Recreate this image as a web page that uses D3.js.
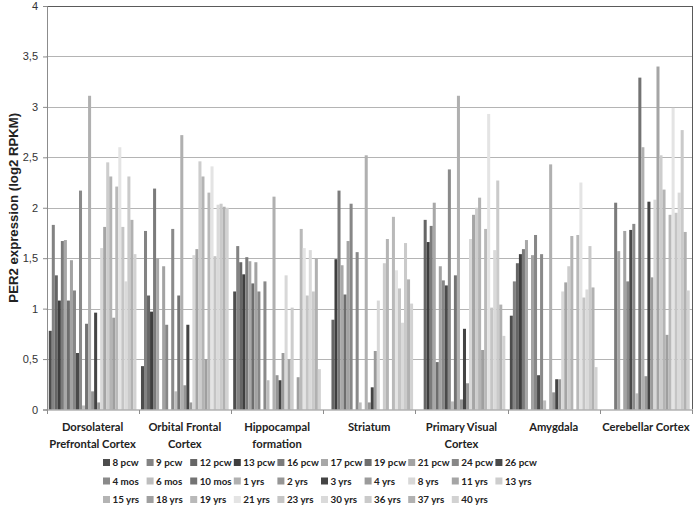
<!DOCTYPE html>
<html>
<head>
<meta charset="utf-8">
<script src="https://cdn.jsdelivr.net/npm/d3@7"></script>
<style>
  html, body { margin: 0; padding: 0; background: #fff; }
  svg { display: block; }
</style>
</head>
<body>
<svg id="chart" width="697" height="513"></svg>
<script>
// ---------- DATA ----------
const categories = ["Dorsolateral Prefrontal Cortex", "Orbital Frontal Cortex", "Hippocampal formation",
  "Striatum", "Primary Visual Cortex", "Amygdala", "Cerebellar Cortex"];
const categoryLines = [["Dorsolateral", "Prefrontal Cortex"], ["Orbital Frontal", "Cortex"], ["Hippocampal", "formation"],
  ["Striatum"], ["Primary Visual", "Cortex"], ["Amygdala"], ["Cerebellar Cortex"]];
const ages = ["8 pcw", "9 pcw", "12 pcw", "13 pcw", "16 pcw", "17 pcw", "19 pcw", "21 pcw", "24 pcw", "26 pcw",
  "4 mos", "6 mos", "10 mos", "1 yrs", "2 yrs", "3 yrs", "4 yrs", "8 yrs", "11 yrs", "13 yrs",
  "15 yrs", "18 yrs", "19 yrs", "21 yrs", "23 yrs", "30 yrs", "36 yrs", "37 yrs", "40 yrs"];
const ageColors = ["#4d4d4d", "#838383", "#666666", "#3f3f3f", "#7b7b7b", "#a8a8a8", "#6e6e6e", "#a3a3a3", "#878787", "#4a4a4a",
  "#8a8a8a", "#bdbdbd", "#737373", "#b0b0b0", "#969696", "#444444", "#9b9b9b", "#d8d8d8", "#a5a5a5", "#cdcdcd",
  "#b4b4b4", "#9f9f9f", "#b9b9b9", "#e4e4e4", "#c5c5c5", "#dadada", "#cacaca", "#b1b1b1", "#d2d2d2"];
// values (log2 RPKM) per region, one per age above
const dorsolateralPFC = [0.78, 1.83, 1.33, 1.08, 1.67, 1.68, 1.08, 1.48, 1.18, 0.56, 2.17, 0.04, 0.85, 3.11, 0.18, 0.96, 0.07, 1.6, 1.81, 2.45, 2.31, 0.91, 2.21, 2.6, 1.81, 1.27, 2.31, 1.88, 1.54];
const orbitalFC = [0.43, 1.77, 1.13, 0.97, 2.19, 1.5, 0, 1.42, 0.84, 0, 1.79, 0.18, 1.13, 2.72, 0.24, 0.84, 0.07, 1.53, 1.59, 2.46, 2.31, 0.5, 2.15, 2.41, 1.52, 2.03, 2.04, 2.01, 2.0];
const hippocampal = [1.17, 1.62, 1.46, 1.34, 1.51, 1.47, 1.25, 1.46, 1.17, 0, 1.27, 0.29, 0, 2.11, 0.34, 0.29, 0.56, 1.33, 0.5, 1.01, 0, 0.32, 1.79, 1.6, 1.13, 1.58, 1.17, 1.5, 0.4];
const striatum = [0, 0, 0.89, 1.49, 2.17, 1.43, 1.14, 1.67, 2.04, 0, 1.56, 0.07, 0, 2.52, 0.07, 0.22, 0.58, 1.08, 0, 1.45, 1.69, 0, 1.91, 1.38, 1.2, 0.86, 1.65, 1.29, 1.05];
const primaryVisual = [0, 0, 1.88, 1.66, 1.82, 2.05, 0.47, 1.42, 1.28, 1.23, 2.38, 0.08, 1.33, 3.11, 0.1, 0.8, 0.26, 1.69, 1.93, 2.0, 2.1, 0.59, 1.79, 2.93, 1.01, 1.58, 2.27, 1.04, 0.73];
const amygdala = [0.93, 1.27, 1.45, 1.54, 1.59, 1.68, 0, 1.53, 1.73, 0.34, 1.54, 0.09, 0, 2.43, 0.17, 0.3, 0.3, 1.17, 1.26, 1.42, 1.72, 0, 1.73, 2.25, 1.11, 1.19, 1.62, 1.21, 0.42];
const cerebellar = [0, 0, 0, 0, 2.05, 1.57, 0, 1.77, 1.27, 1.78, 1.84, 0.16, 3.29, 2.6, 0.33, 2.06, 1.31, 2.08, 3.4, 2.52, 2.18, 0.74, 1.93, 2.99, 1.95, 2.15, 2.77, 1.76, 1.18];
const yTicks = [0, 0.5, 1, 1.5, 2, 2.5, 3, 3.5, 4];
const yTickLabels = ["0", "0,5", "1", "1,5", "2", "2,5", "3", "3,5", "4"];
const yTitle = "PER2 expression (log2 RPKM)";

const regionValues = [dorsolateralPFC, orbitalFC, hippocampal, striatum, primaryVisual, amygdala, cerebellar];

// ---------- LAYOUT ----------
const svg = d3.select("#chart");
const plot = { left: 46.5, right: 692, top: 6, bottom: 409.5 };

const gapRatio = 1.5 / 30.5;
const x0 = d3.scaleBand().domain(categories).range([plot.left, plot.right])
  .paddingInner(gapRatio).paddingOuter(gapRatio / 2);
const x1 = d3.scaleBand().domain(ages).range([0, x0.bandwidth()]);
const y = d3.scaleLinear().domain([0, 4]).range([plot.bottom, plot.top]);

// gridlines
svg.append("g").selectAll("line").data(yTicks.slice(1, -1)).join("line")
  .attr("x1", plot.left).attr("x2", plot.right)
  .attr("y1", d => Math.round(y(d)) + 0.5).attr("y2", d => Math.round(y(d)) + 0.5)
  .attr("stroke", "#b4b4b4").attr("stroke-width", 1);

// bars
const rows = [];
categories.forEach((c, ci) => ages.forEach((a, ai) => rows.push({ c, a, ai, v: regionValues[ci][ai] })));
svg.append("g").selectAll("rect").data(rows.filter(d => d.v > 0)).join("rect")
  .attr("x", d => x0(d.c) + x1(d.a))
  .attr("width", x1.bandwidth())
  .attr("y", d => y(d.v))
  .attr("height", d => y(0) - y(d.v))
  .attr("fill", d => ageColors[d.ai]);

// frame top & right
svg.append("line").attr("x1", plot.left).attr("x2", plot.right + 0.5)
  .attr("y1", plot.top + 0.5).attr("y2", plot.top + 0.5).attr("stroke", "#5a5a5a");
svg.append("line").attr("x1", plot.right + 0.5).attr("x2", plot.right + 0.5)
  .attr("y1", plot.top).attr("y2", plot.bottom).attr("stroke", "#5a5a5a");

// y axis
const yAxis = d3.axisLeft(y).tickValues(yTicks).tickSize(4).tickPadding(5)
  .tickFormat((d, i) => yTickLabels[i]);
const gy = svg.append("g").attr("transform", `translate(${plot.left + 0.5},0)`).call(yAxis);
gy.select(".domain").attr("stroke", "#8c8c8c");
gy.selectAll(".tick line").attr("stroke", "#8c8c8c");
gy.selectAll(".tick text").attr("font-family", "Liberation Sans, Arial, sans-serif")
  .attr("font-size", 11).attr("fill", "#333");

// x axis
const gx = svg.append("g").attr("transform", `translate(0,${plot.bottom + 0.5})`);
gx.append("line").attr("x1", plot.left).attr("x2", plot.right).attr("stroke", "#8c8c8c");
const step = x0.step();
const boundaries = d3.range(categories.length + 1).map(i => plot.left + i * step);
gx.selectAll("line.tk").data(boundaries).join("line").attr("class", "tk")
  .attr("x1", d => Math.round(d) + 0.5).attr("x2", d => Math.round(d) + 0.5)
  .attr("y1", 0).attr("y2", 4).attr("stroke", "#8c8c8c");

const labels = svg.append("g").attr("font-family", "Lato, 'Open Sans', sans-serif")
  .attr("font-weight", "bold").attr("font-size", 11.2).attr("fill", "#222").attr("text-anchor", "middle");
categories.forEach((c, ci) => {
  const cx = x0(c) + x0.bandwidth() / 2;
  categoryLines[ci].forEach((ln, li) => {
    labels.append("text").attr("x", cx).attr("y", 431 + li * 17).text(ln);
  });
});

// y title
svg.append("text")
  .attr("transform", `translate(18,${(plot.top + plot.bottom) / 2}) rotate(-90)`)
  .attr("text-anchor", "middle")
  .attr("font-family", "Liberation Sans, Arial, sans-serif")
  .attr("font-weight", "bold").attr("font-size", 13.2).attr("fill", "#222")
  .text(yTitle);

// legend
const legend = svg.append("g").attr("font-family", "Lato, 'Open Sans', sans-serif")
  .attr("font-weight", "bold").attr("font-size", 9.8).attr("fill", "#222");
const legX = 103, legPitch = 43.6, legRows = [463, 481.5, 500];
ages.forEach((a, i) => {
  const r = Math.floor(i / 10), c = i % 10;
  const gx0 = legX + c * legPitch, gy0 = legRows[r];
  legend.append("rect").attr("x", gx0).attr("y", gy0 - 4).attr("width", 7).attr("height", 7).attr("fill", ageColors[i]);
  legend.append("text").attr("x", gx0 + 9.5).attr("y", gy0 + 3.3).text(a);
});
</script>
</body>
</html>
